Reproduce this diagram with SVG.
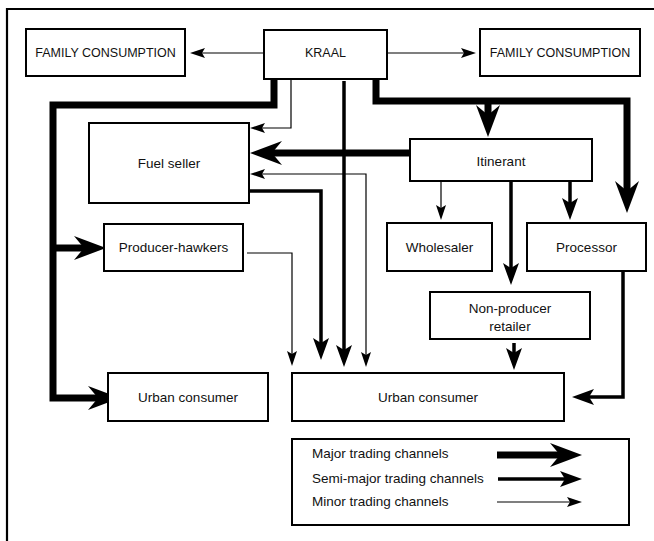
<svg xmlns="http://www.w3.org/2000/svg" width="654" height="541" viewBox="0 0 654 541">
  <style>
    .box { fill: #fff; stroke: #000; stroke-width: 2; }
    .lbl { font-family: "Liberation Sans", Arial, sans-serif; font-size: 13.5px; fill: #111; text-anchor: middle; }
    .cap { font-size: 12.5px; }
    .leg { text-anchor: start; }
    .major { fill: none; stroke: #000; stroke-width: 7; stroke-linejoin: miter; marker-end: url(#hMajor); }
    .semi { fill: none; stroke: #000; stroke-width: 3.5; stroke-linejoin: miter; marker-end: url(#hSemi); }
    .minor { fill: none; stroke: #000; stroke-width: 1.2; marker-end: url(#hMinor); }
    .frame { fill: none; stroke: #000; stroke-width: 2.2; }
  </style>
  <defs>
    <marker id="hMajor" markerUnits="userSpaceOnUse" viewBox="0 -12 32 24" markerWidth="32" markerHeight="24" refX="10" refY="0" orient="auto">
      <path d="M0,-12 L32,0 L0,12 L10,0 Z" fill="#000"/>
    </marker>
    <marker id="hSemi" markerUnits="userSpaceOnUse" viewBox="0 -8 22 16" markerWidth="22" markerHeight="16" refX="5" refY="0" orient="auto">
      <path d="M0,-8 L22,0 L0,8 L5,0 Z" fill="#000"/>
    </marker>
    <marker id="hMinor" markerUnits="userSpaceOnUse" viewBox="0 -5 15 10" markerWidth="15" markerHeight="10" refX="3" refY="0" orient="auto-start-reverse">
      <path d="M0,-5 L15,0 L0,5 L3,0 Z" fill="#000"/>
    </marker>
  </defs>

  <rect width="654" height="541" fill="#fff"/>
  <!-- outer frame (open at right and bottom) -->
  <path class="frame" d="M7,541 L7,9 L654,9"/>

  <!-- trading channels -->
  <g id="connectors">
    <!-- Kraal to family consumption -->
    <path class="minor" d="M264,53 L202,53"/>
    <path class="minor" d="M387,53 L464,53"/>
    <!-- Kraal to producer-hawkers and left urban consumer -->
    <path class="major" d="M274,79 L274,105 L53,105 L53,398 L98,398"/>
    <path class="major" d="M53,248 L84,248"/>
    <!-- Kraal to fuel seller -->
    <path class="minor" d="M291,79 L291,128 L262,128"/>
    <!-- Kraal to itinerant and processor -->
    <path class="major" d="M376,79 L376,101 L627,101 L627,191"/>
    <path class="major" d="M488,101 L488,115"/>
    <!-- Kraal to right urban consumer -->
    <path class="semi" d="M344,81 L344,350"/>
    <!-- Itinerant to fuel seller -->
    <path class="major" d="M410,153 L272,153"/>
    <!-- Fuel seller / urban consumer minor link -->
    <path class="minor" d="M262,174 L366,174 L366,355" marker-start="url(#hMinor)"/>
    <!-- Fuel seller to right urban consumer -->
    <path class="semi" d="M249,191 L321,191 L321,343"/>
    <!-- Producer-hawkers to right urban consumer -->
    <path class="minor" d="M247,253 L292,253 L292,354"/>
    <!-- Itinerant to wholesaler, retailer, processor -->
    <path class="minor" d="M441,181 L441,208"/>
    <path class="semi" d="M511,181 L511,268"/>
    <path class="semi" d="M570,181 L570,203"/>
    <!-- Retailer to right urban consumer -->
    <path class="semi" d="M514,343 L514,353"/>
    <!-- Processor to right urban consumer -->
    <path class="semi" d="M623,271 L623,397 L589,397"/>
  </g>

  <g id="family-left">
    <rect class="box" x="26" y="29" width="159" height="47"/>
    <text class="lbl cap" x="105.5" y="57">FAMILY CONSUMPTION</text>
  </g>
  <g id="kraal">
    <rect class="box" x="264" y="30" width="123" height="49"/>
    <text class="lbl cap" x="325.5" y="57">KRAAL</text>
  </g>
  <g id="family-right">
    <rect class="box" x="480" y="29" width="160" height="47"/>
    <text class="lbl cap" x="560" y="57">FAMILY CONSUMPTION</text>
  </g>
  <g id="fuel-seller">
    <rect class="box" x="89" y="123" width="160" height="80"/>
    <text class="lbl" x="169" y="168">Fuel seller</text>
  </g>
  <g id="itinerant">
    <rect class="box" x="410" y="139" width="182" height="42"/>
    <text class="lbl" x="501" y="166">Itinerant</text>
  </g>
  <g id="producer-hawkers">
    <rect class="box" x="104" y="224" width="139" height="47"/>
    <text class="lbl" x="173.5" y="252">Producer-hawkers</text>
  </g>
  <g id="wholesaler">
    <rect class="box" x="387" y="223" width="105" height="48"/>
    <text class="lbl" x="439.5" y="252">Wholesaler</text>
  </g>
  <g id="processor">
    <rect class="box" x="527" y="223" width="119" height="48"/>
    <text class="lbl" x="586.5" y="252">Processor</text>
  </g>
  <g id="retailer">
    <rect class="box" x="430" y="292" width="160" height="47"/>
    <text class="lbl" x="510" y="313">Non-producer</text>
    <text class="lbl" x="510" y="330.5">retailer</text>
  </g>
  <g id="urban-left">
    <rect class="box" x="108" y="373" width="160" height="48"/>
    <text class="lbl" x="188" y="402">Urban consumer</text>
  </g>
  <g id="urban-right">
    <rect class="box" x="292" y="373" width="272" height="48"/>
    <text class="lbl" x="428" y="402">Urban consumer</text>
  </g>

  <g id="legend">
    <rect class="box" x="292" y="439" width="337" height="86"/>
    <text class="lbl leg" x="312" y="458">Major trading channels</text>
    <text class="lbl leg" x="312" y="483">Semi-major trading channels</text>
    <text class="lbl leg" x="312" y="506">Minor trading channels</text>
    <path class="major" d="M497,455 L560,455"/>
    <path class="semi" d="M498,479 L565,479"/>
    <path class="minor" d="M497,502 L570,502"/>
  </g>
</svg>
